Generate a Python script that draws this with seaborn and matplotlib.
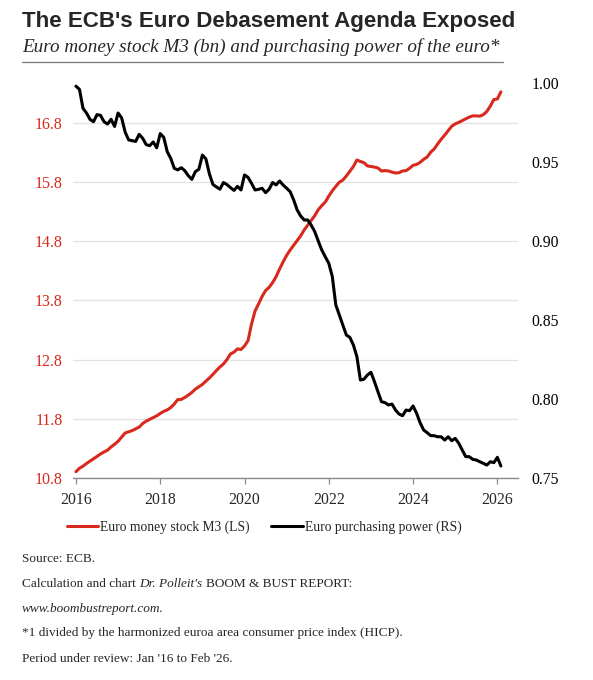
import numpy as np
import pandas as pd
import seaborn as sns
import matplotlib.pyplot as plt

# monthly data, Jan 2016 .. Feb 2026
m3 = [
    10.906, 10.965, 11.000, 11.045, 11.085, 11.125, 11.165, 11.205, 11.240, 11.270, 11.325, 11.370,  # 2016
    11.420, 11.490, 11.560, 11.580, 11.600, 11.630, 11.660, 11.720, 11.760, 11.790, 11.820, 11.850,  # 2017
    11.890, 11.925, 11.950, 11.990, 12.050, 12.125, 12.127, 12.160, 12.200, 12.245, 12.300, 12.340,  # 2018
    12.380, 12.435, 12.490, 12.550, 12.615, 12.675, 12.725, 12.800, 12.895, 12.925, 12.980, 12.970,  # 2019
    13.030, 13.120, 13.400, 13.620, 13.740, 13.865, 13.965, 14.020, 14.100, 14.200, 14.330, 14.450,  # 2020
    14.560, 14.650, 14.730, 14.810, 14.890, 14.990, 15.070, 15.150, 15.230, 15.330, 15.400, 15.460,  # 2021
    15.560, 15.650, 15.725, 15.795, 15.830, 15.900, 15.980, 16.060, 16.170, 16.145, 16.125, 16.070,  # 2022
    16.060, 16.050, 16.035, 15.985, 15.990, 15.985, 15.965, 15.950, 15.955, 15.985, 15.990, 16.030,  # 2023
    16.080, 16.095, 16.130, 16.180, 16.220, 16.300, 16.355, 16.440, 16.520, 16.590, 16.665, 16.740,  # 2024
    16.780, 16.805, 16.835, 16.865, 16.895, 16.915, 16.915, 16.910, 16.935, 16.990, 17.080, 17.190,  # 2025
    17.200, 17.320,                                                                                  # 2026
]
power = [
    0.9980, 0.9960, 0.9840, 0.9810, 0.9770, 0.9755, 0.9800, 0.9795, 0.9755, 0.9740, 0.9770, 0.9725,  # 2016
    0.9810, 0.9780, 0.9690, 0.9640, 0.9635, 0.9630, 0.9675, 0.9650, 0.9610, 0.9603, 0.9627, 0.9590,  # 2017
    0.9680, 0.9656, 0.9565, 0.9523, 0.9460, 0.9450, 0.9464, 0.9445, 0.9413, 0.9390, 0.9439, 0.9454,  # 2018
    0.9544, 0.9520, 0.9425, 0.9358, 0.9342, 0.9328, 0.9370, 0.9357, 0.9338, 0.9320, 0.9346, 0.9323,  # 2019
    0.9418, 0.9403, 0.9365, 0.9323, 0.9327, 0.9334, 0.9306, 0.9327, 0.9370, 0.9355, 0.9380, 0.9354,  # 2020
    0.9334, 0.9312, 0.9260, 0.9196, 0.9158, 0.9133, 0.9133, 0.9100, 0.9059, 0.9000, 0.8943, 0.8900,  # 2021
    0.8859, 0.8775, 0.8595, 0.8532, 0.8468, 0.8405, 0.8390, 0.8342, 0.8268, 0.8120, 0.8125, 0.8152,  # 2022
    0.8169, 0.8110, 0.8046, 0.7983, 0.7977, 0.7962, 0.7968, 0.7930, 0.7905, 0.7894, 0.7930, 0.7926,  # 2023
    0.7956, 0.7910, 0.7850, 0.7804, 0.7787, 0.7768, 0.7768, 0.7761, 0.7761, 0.7740, 0.7761, 0.7736,  # 2024
    0.7751, 0.7720, 0.7677, 0.7635, 0.7635, 0.7618, 0.7614, 0.7603, 0.7593, 0.7582, 0.7603, 0.7597,  # 2025
    0.7631, 0.7576,                                                                                  # 2026
]
years = [2016, 2018, 2020, 2022, 2024, 2026]
left_ticks = [10.8, 11.8, 12.8, 13.8, 14.8, 15.8, 16.8]
right_ticks = [0.75, 0.80, 0.85, 0.90, 0.95, 1.00]

df = pd.DataFrame({
    "t": 2016 + np.arange(len(m3)) / 12,
    "m3": m3,
    "power": power,
})

RED = "#d8291c"
sns.set_style("white")
plt.rcParams["font.family"] = ["Liberation Serif", "DejaVu Serif"]

fig = plt.figure(figsize=(5.93, 6.8), dpi=100)
ax = fig.add_axes([73 / 593, 1 - 478 / 680, 445 / 593, 395 / 680])
ax2 = ax.twinx()

sns.lineplot(data=df, x="t", y="m3", ax=ax, color=RED, lw=2.2, label="Euro money stock M3 (LS)", legend=False)
sns.lineplot(data=df, x="t", y="power", ax=ax2, color="black", lw=2.2, label="Euro purchasing power (RS)", legend=False)

ax.set_xlim(2015.93, 2026.49)
ax.set_ylim(10.8, 17.47)
ax2.set_ylim(0.75, 1.00)

ax.set_xticks(years)
ax.set_xticklabels([str(y) for y in years])
ax.set_yticks(left_ticks)
ax.set_yticklabels([f"{v:.1f}" for v in left_ticks])
ax2.set_yticks(right_ticks)
ax2.set_yticklabels([f"{v:.2f}" for v in right_ticks])

ax.yaxis.grid(True, color="#e2e2e2", lw=0.9)
ax.set_axisbelow(True)
for a in (ax, ax2):
    a.set_xlabel("")
    a.set_ylabel("")
    for s in ["top", "left", "right"]:
        a.spines[s].set_visible(False)
ax2.spines["bottom"].set_visible(False)
ax.spines["bottom"].set_color("#8a8a8a")
ax.spines["bottom"].set_linewidth(1.0)

ax.tick_params(axis="x", length=4, width=0.9, color="#8a8a8a", labelsize=11.3, pad=6, bottom=True)
ax.tick_params(axis="y", length=0, labelsize=11.5, labelcolor=RED, pad=7.5)
ax2.tick_params(axis="y", length=0, labelsize=11.3, labelcolor="black", pad=9.5)

# header
fig.text(22 / 593, 1 - 22 / 680, "The ECB's Euro Debasement Agenda Exposed",
         family="Liberation Sans", weight="bold", fontsize=16.1, va="center")
fig.text(22 / 593, 1 - 47 / 680, "Euro money stock M3 (bn) and purchasing power of the euro*",
         style="italic", fontsize=13.8, va="center")
fig.add_artist(plt.Line2D([22 / 593, 503 / 593], [1 - 62 / 680, 1 - 62 / 680],
                          color="#777777", lw=0.9))

# legend
h1, l1 = ax.get_legend_handles_labels()
h2, l2 = ax2.get_legend_handles_labels()
fig.legend(h1 + h2, l1 + l2, loc="center", bbox_to_anchor=(264 / 593, 1 - 527 / 680),
           ncol=2, frameon=False, fontsize=9.8, handlelength=2.3, handletextpad=0.15,
           columnspacing=1.6)

# footnotes
fs = 9.5
x0 = 22 / 593
fig.text(x0, 1 - 559 / 680, "Source: ECB.", fontsize=fs, va="center")
t1 = fig.text(x0, 1 - 584 / 680, "Calculation and chart", fontsize=fs, va="center")
t2 = ax.annotate("Dr. Polleit's", xy=(1, 0), xycoords=t1, xytext=(2.5, 0), textcoords="offset points",
                 fontsize=fs, style="italic", va="bottom", ha="left", annotation_clip=False)
ax.annotate("BOOM & BUST REPORT:", xy=(1, 0), xycoords=t2, xytext=(2.5, 0), textcoords="offset points",
            fontsize=fs, va="bottom", ha="left", annotation_clip=False)
fig.text(x0, 1 - 609 / 680, "www.boombustreport.com.", fontsize=fs, style="italic", va="center")
fig.text(x0, 1 - 633 / 680, "*1 divided by the harmonized euroa area consumer price index (HICP).",
         fontsize=fs, va="center")
fig.text(x0, 1 - 659 / 680, "Period under review: Jan '16 to Feb '26.", fontsize=fs, va="center")

fig.savefig("out.png", dpi=100)
